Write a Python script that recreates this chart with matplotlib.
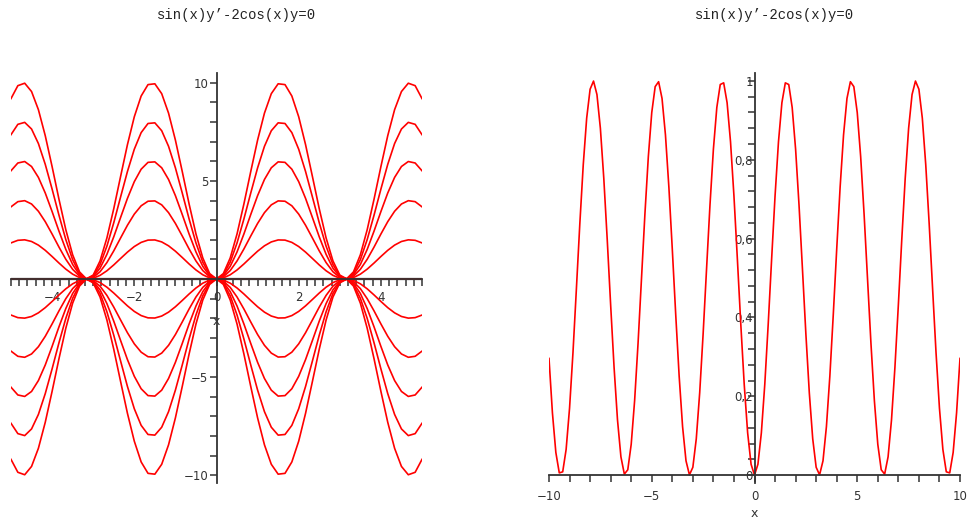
import numpy as np
import matplotlib.pyplot as plt
from matplotlib.ticker import MultipleLocator, FixedLocator, FuncFormatter

# sin(x)y' - 2cos(x)y = 0  ->  y = C*sin(x)^2
C_values = [-10, -8, -6, -4, -2, 0, 2, 4, 6, 8, 10]
C_right = 1

x_left = np.linspace(-5, 5, 61)
x_right = np.linspace(-10, 10, 121)

def solution(C, x):
    return C * np.sin(x) ** 2

title = "sin(x)y\u2019-2cos(x)y=0"
red = "#ff0000"
axis_col = "#333333"

fig = plt.figure(figsize=(9.67, 5.25), dpi=100)


def maple_axes(ax):
    for s in ["top", "right"]:
        ax.spines[s].set_visible(False)
    ax.spines["left"].set_position(("data", 0))
    ax.spines["bottom"].set_position(("data", 0))
    for s in ["left", "bottom"]:
        ax.spines[s].set_color(axis_col)
        ax.spines[s].set_linewidth(1.3)
    ax.tick_params(which="both", direction="out", length=5, width=1.1,
                   color=axis_col, labelcolor="#333333", labelsize=8.5)
    ax.tick_params(axis="y", pad=1)
    ax.patch.set_visible(False)


def fmt(v, pos):
    if abs(v - round(v)) < 1e-9:
        s = "%d" % round(v)
    else:
        s = ("%.1f" % v).replace(".", ",")
    return s.replace("-", "\u2212")


# left plot
ax1 = fig.add_axes([11 / 967, 42 / 525, 411 / 967, 410 / 525])
for C in C_values:
    ax1.plot(x_left, solution(C, x_left), color=red, lw=1.2)
ax1.axhline(0, color="#222222", lw=1.6, zorder=0.5)
ax1.set_xlim(-5, 5)
ax1.set_ylim(-10.4, 10.5)
maple_axes(ax1)
ax1.xaxis.set_major_locator(FixedLocator([-4, -2, 0, 2, 4]))
ax1.xaxis.set_minor_locator(MultipleLocator(0.2))
ax1.yaxis.set_major_locator(FixedLocator([-10, -5, 5, 10]))
ax1.yaxis.set_minor_locator(MultipleLocator(1))
ax1.xaxis.set_major_formatter(FuncFormatter(fmt))
ax1.yaxis.set_major_formatter(FuncFormatter(fmt))
ax1.set_xlabel("x", fontsize=9, color="#333333")
ax1.xaxis.set_label_coords(0.5, 0.41)

# right plot
ax2 = fig.add_axes([549 / 967, 42 / 525, 411 / 967, 410 / 525])
ax2.plot(x_right, solution(C_right, x_right), color=red, lw=1.2)
ax2.set_xlim(-10, 10)
ax2.set_ylim(-0.02, 1.02)
maple_axes(ax2)
ax2.tick_params(axis="y", pad=-4)
ax2.tick_params(axis="x", pad=6)
ax2.xaxis.set_major_locator(FixedLocator([-10, -5, 0, 5, 10]))
ax2.xaxis.set_minor_locator(MultipleLocator(1))
ax2.yaxis.set_major_locator(FixedLocator([0, 0.2, 0.4, 0.6, 0.8, 1]))
ax2.yaxis.set_minor_locator(MultipleLocator(0.04))
ax2.xaxis.set_major_formatter(FuncFormatter(fmt))
ax2.yaxis.set_major_formatter(FuncFormatter(fmt))
ax2.set_xlabel("x", fontsize=9, color="#333333")
ax2.xaxis.set_label_coords(0.5, -0.058)

fig.text(236 / 967, 1 - 15 / 525, title, family="Liberation Mono", fontsize=10,
         ha="center", va="center", color="#222222")
fig.text(774 / 967, 1 - 15 / 525, title, family="Liberation Mono", fontsize=10,
         ha="center", va="center", color="#222222")

fig.savefig("out.png", dpi=100)
